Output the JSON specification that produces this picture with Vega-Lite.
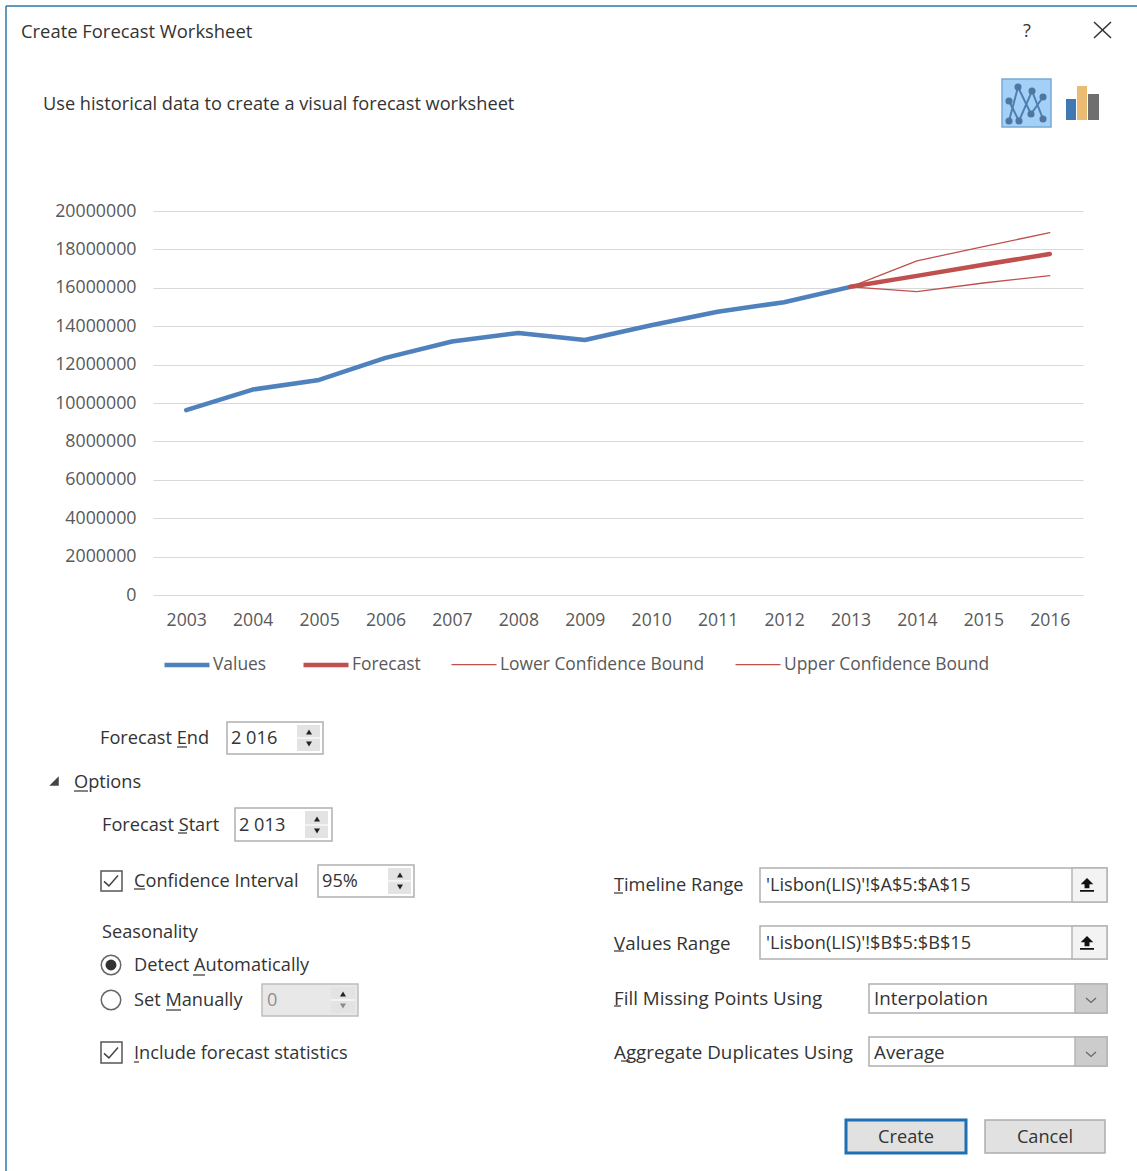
{
"$schema":"https://vega.github.io/schema/vega-lite/v6.json",
"width":1137,"height":1171,"padding":0,"autosize":{"type":"none"},"background":"#ffffff",
"config":{"font":"Open Sans","view":{"stroke":null}},
"resolve":{"scale":{"x":"independent","y":"independent"}},
"layer":[
{
"encoding":{
"x":{"field":"col","type":"quantitative","axis":null,"scale":{"zero":false,"nice":false,"domain":[0,1,2,3,4,5,6,7,8,9,10,11,12,13,14,15,16,17,18,19,20,21,22,23,24,25,26,27,28,29,30,31,32,33,34,35,36,37,38,39,40,41,42,43,44,45,46,47,48,49,50,51,52,53,54,55,56,57,58,59,60,61,62,63,64,65,66,67,68,69,70,71,72,73,74,75,76,77,78,79,80,81],
"range":[6,1137,21,43,1027,1094,1111,1002,1051,1066,1076,1077,1087,1088,1099,1009,1018,1019,1031,1032,1043,100,74,102,134,54,111,101,122,227,323,297,320,235,332,305,328,318,414,388,411,262,358,331,355,231,239,322,267,309,317,400,343,614,760,1107,1072,766,869,1075,874,1091,846,966,906,985,1105,1045,177,187,88,178,145,193,205,166,181,139,623,624,621,630]}},
"y":{"field":"line","type":"quantitative","axis":null,"scale":{"zero":false,"nice":false,"domain":[0,1,2,3,4,5,6,7,8,9,10,11,12,13,14,15,16,17,18,19,20,21,22,23,24,25,26,27,28,29,30,31,32,33,34,35,36,37,38,39,40,41,42,43,44,45,46,47,48,49,50,51,52,53,54,55,56,57,58,59,60,61,62,63,64,65,66,67,68,69,70],
"range":[6,1171,31,104,22,38,79,127,99,120,86,94,121,87,114,97,101,91,119,781,738,782,825,881,932,965,1000,1053,885,943,998,1052,1137,722,754,725,751,808,841,811,838,865,897,868,894,984,1016,987,1013,902,926,959,1037,1066,1120,1153,871,891,1042,1063,747,791,833,889,975,1010,1062,893,951,1006,1061]}}
},
"layer":[
{"data":{"values":[{"part":"top edge","col":0,"col2":1,"line":0,"line2":0},{"part":"left edge","col":0,"col2":0,"line":0,"line2":1}]},
 "mark":{"type":"rule","stroke":"#2b78a8","strokeWidth":1.5},
 "encoding":{"x2":{"field":"col2"},"y2":{"field":"line2"}}},

{"data":{"values":[{"part":"close","col":5,"col2":6,"line":4,"line2":5},{"part":"close","col":5,"col2":6,"line":5,"line2":4}]},
 "mark":{"type":"rule","stroke":"#333333","strokeWidth":1.5},
 "encoding":{"x2":{"field":"col2"},"y2":{"field":"line2"}}},

{"data":{"values":[{"part":"line icon","col":7,"col2":8,"line":6,"line2":7}]},
 "mark":{"type":"rect","fill":"#a3d0f7","stroke":"#77a9d6","strokeWidth":1.5},
 "encoding":{"x2":{"field":"col2"},"y2":{"field":"line2"}}},
{"data":{"values":[
 {"trace":"a","col":15,"line":12},{"trace":"a","col":16,"line":13},{"trace":"a","col":18,"line":14},{"trace":"a","col":20,"line":15},
 {"trace":"b","col":15,"line":16},{"trace":"b","col":17,"line":12},{"trace":"b","col":19,"line":17},{"trace":"b","col":20,"line":18}]},
 "layer":[
 {"mark":{"type":"line","stroke":"#4f7fb0","strokeWidth":2},"encoding":{"detail":{"field":"trace"}}},
 {"mark":{"type":"point","filled":true,"fill":"#4f76a0","opacity":1,"size":50}}
 ]},
{"data":{"values":[{"part":"bar 1","col":9,"col2":10,"line":8,"line2":9}]},"mark":{"type":"rect","fill":"#4078b4"},"encoding":{"x2":{"field":"col2"},"y2":{"field":"line2"}}},
{"data":{"values":[{"part":"bar 2","col":11,"col2":12,"line":10,"line2":9}]},"mark":{"type":"rect","fill":"#e9bb73"},"encoding":{"x2":{"field":"col2"},"y2":{"field":"line2"}}},
{"data":{"values":[{"part":"bar 3","col":13,"col2":14,"line":11,"line2":9}]},"mark":{"type":"rect","fill":"#6f6f6f"},"encoding":{"x2":{"field":"col2"},"y2":{"field":"line2"}}},

{"data":{"values":[
 {"box":"Forecast End","col":29,"col2":30,"line":33,"line2":34},
 {"box":"Forecast Start","col":33,"col2":34,"line":37,"line2":38},
 {"box":"Confidence Interval","col":37,"col2":38,"line":41,"line2":42},
 {"box":"Timeline Range","col":54,"col2":55,"line":43,"line2":49},
 {"box":"Values Range","col":54,"col2":55,"line":50,"line2":51},
 {"box":"Fill Missing Points","col":58,"col2":55,"line":45,"line2":48},
 {"box":"Aggregate Duplicates","col":58,"col2":55,"line":52,"line2":53}]},
 "mark":{"type":"rect","fill":"#ffffff","stroke":"#b0b0b0","strokeWidth":1.5},
 "encoding":{"x2":{"field":"col2"},"y2":{"field":"line2"}}},
{"data":{"values":[{"box":"Seasonality","col":41,"col2":42,"line":45,"line2":46}]},
 "mark":{"type":"rect","fill":"#e8e8e8","stroke":"#bdbdbd","strokeWidth":1.5},
 "encoding":{"x2":{"field":"col2"},"y2":{"field":"line2"}}},
{"data":{"values":[
 {"box":"Forecast End","col":31,"col2":32,"line":35,"line2":36},
 {"box":"Forecast Start","col":35,"col2":36,"line":39,"line2":40},
 {"box":"Confidence Interval","col":39,"col2":40,"line":43,"line2":44},
 {"box":"Seasonality","col":43,"col2":44,"line":47,"line2":48}]},
 "mark":{"type":"rect","fill":"#e3e3e3"},
 "encoding":{"x2":{"field":"col2"},"y2":{"field":"line2"}}},
{"data":{"values":[
 {"box":"Forecast End","col":31,"col2":32,"line":20},
 {"box":"Forecast Start","col":35,"col2":36,"line":22},
 {"box":"Confidence Interval","col":39,"col2":40,"line":23},
 {"box":"Seasonality","col":43,"col2":44,"line":26}]},
 "mark":{"type":"rule","stroke":"#f8f8f8","strokeWidth":1.5},
 "encoding":{"x2":{"field":"col2"}}},
{"data":{"values":[{"col":49,"line":20},{"col":50,"line":22},{"col":51,"line":23},{"col":52,"line":26}]},
 "mark":{"type":"point","shape":"triangle-up","filled":true,"fill":"#222222","opacity":1,"size":36,"yOffset":-6}},
{"data":{"values":[{"col":49,"line":20},{"col":50,"line":22},{"col":51,"line":23}]},
 "mark":{"type":"point","shape":"triangle-down","filled":true,"fill":"#222222","opacity":1,"size":36,"yOffset":6}},
{"data":{"values":[{"col":52,"line":26}]},
 "mark":{"type":"point","shape":"triangle-down","filled":true,"fill":"#8a8a8a","opacity":1,"size":36,"yOffset":6}},

{"data":{"values":[
 {"box":"Timeline Range","col":56,"col2":55,"line":43,"line2":49},
 {"box":"Values Range","col":56,"col2":55,"line":50,"line2":51}]},
 "mark":{"type":"rect","fill":"#f3f3f3","stroke":"#b5b5b5","strokeWidth":1.5},
 "encoding":{"x2":{"field":"col2"},"y2":{"field":"line2"}}},
{"data":{"values":[{"col":12,"line":28},{"col":12,"line":29}]},
 "mark":{"type":"point","shape":"M0,-1 L0.9,-0.1 L0.35,-0.1 L0.35,0.45 L-0.35,0.45 L-0.35,-0.1 L-0.9,-0.1 Z M-1,0.7 L1,0.7 L1,0.95 L-1,0.95 Z","filled":true,"fill":"#111111","opacity":1,"size":196}},
{"data":{"values":[
 {"box":"Fill Missing Points","col":59,"col2":55,"line":45,"line2":48},
 {"box":"Aggregate Duplicates","col":59,"col2":55,"line":52,"line2":53}]},
 "mark":{"type":"rect","fill":"#cccccc","stroke":"#b5b5b5","strokeWidth":1.5},
 "encoding":{"x2":{"field":"col2"},"y2":{"field":"line2"}}},
{"data":{"values":[{"col":61,"line":30},{"col":61,"line":31}]},
 "mark":{"type":"point","shape":"M-1,-0.4 L0,0.5 L1,-0.4","filled":false,"stroke":"#666666","strokeWidth":1.2,"opacity":1,"size":100,"yOffset":2}},

{"data":{"values":[{"box":"Create","col":62,"col2":63,"line":54,"line2":55}]},
 "mark":{"type":"rect","fill":"#e1e1e1","stroke":"#1f6fb5","strokeWidth":3},
 "encoding":{"x2":{"field":"col2"},"y2":{"field":"line2"}}},
{"data":{"values":[{"box":"Cancel","col":65,"col2":66,"line":54,"line2":55}]},
 "mark":{"type":"rect","fill":"#e1e1e1","stroke":"#adadad","strokeWidth":1.5},
 "encoding":{"x2":{"field":"col2"},"y2":{"field":"line2"}}},

{"data":{"values":[
 {"box":"Confidence Interval","col":27,"col2":28,"line":56,"line2":57},
 {"box":"Include forecast statistics","col":27,"col2":28,"line":58,"line2":59}]},
 "mark":{"type":"rect","fill":"#ffffff","stroke":"#555555","strokeWidth":1.5},
 "encoding":{"x2":{"field":"col2"},"y2":{"field":"line2"}}},
{"data":{"values":[{"col":26,"line":23},{"col":26,"line":27}]},
 "mark":{"type":"point","shape":"M-1,0.05 L-0.3,0.7 L1,-0.8","filled":false,"stroke":"#444444","strokeWidth":1.5,"opacity":1,"size":196}},
{"data":{"values":[{"col":26,"line":25},{"col":26,"line":26}]},
 "mark":{"type":"point","shape":"circle","filled":true,"fill":"#ffffff","stroke":"#666666","strokeWidth":1.5,"opacity":1,"size":380}},
{"data":{"values":[{"col":26,"line":25}]},
 "mark":{"type":"point","shape":"circle","filled":true,"fill":"#333333","opacity":1,"size":120}},
{"data":{"values":[{"col":25,"line":19}]},
 "mark":{"type":"point","shape":"M1,-1 L1,1 L-1,1 Z","filled":true,"fill":"#444444","opacity":1,"size":90}},

{"data":{"values":[{"label":"Create Forecast Worksheet","col":2,"line":2}]},
 "mark":{"type":"text","align":"left","baseline":"middle","fontSize":18.4,"yOffset":1,"fill":"#333333"},
 "encoding":{"text":{"field":"label"}}},
{"data":{"values":[
 {"label":"Use historical data to create a visual forecast worksheet","col":3,"line":3},
 {"label":"Forecast End","col":21,"line":20},
 {"label":"Options","col":22,"line":21},
 {"label":"Forecast Start","col":23,"line":22},
 {"label":"Confidence Interval","col":24,"line":23},
 {"label":"Seasonality","col":23,"line":24},
 {"label":"Detect Automatically","col":24,"line":25},
 {"label":"Set Manually","col":24,"line":26},
 {"label":"Include forecast statistics","col":24,"line":27},
 {"label":"Timeline Range","col":53,"line":28},
 {"label":"2 016","col":45,"line":20},
 {"label":"2 013","col":46,"line":22},
 {"label":"95%","col":47,"line":23},
 {"label":"'Lisbon(LIS)'!$A$5:$A$15","col":57,"line":28},
 {"label":"'Lisbon(LIS)'!$B$5:$B$15","col":57,"line":29}]},
 "mark":{"type":"text","align":"left","baseline":"middle","fontSize":18.2,"yOffset":1,"fill":"#333333"},
 "encoding":{"text":{"field":"label"}}},
{"data":{"values":[
 {"label":"Values Range","col":53,"line":29},
 {"label":"Fill Missing Points Using","col":53,"line":30},
 {"label":"Aggregate Duplicates Using","col":53,"line":31},
 {"label":"Interpolation","col":60,"line":30},
 {"label":"Average","col":60,"line":31}]},
 "mark":{"type":"text","align":"left","baseline":"middle","fontSize":18.8,"yOffset":1,"fill":"#333333"},
 "encoding":{"text":{"field":"label"}}},
{"data":{"values":[{"label":"0","col":48,"line":26}]},
 "mark":{"type":"text","align":"left","baseline":"middle","fontSize":18.2,"yOffset":1,"fill":"#8f8f8f"},
 "encoding":{"text":{"field":"label"}}},
{"data":{"values":[
 {"label":"?","col":4,"line":2},
 {"label":"Create","col":64,"line":32},
 {"label":"Cancel","col":67,"line":32}]},
 "mark":{"type":"text","align":"center","baseline":"middle","fontSize":18.2,"yOffset":1,"fill":"#333333"},
 "encoding":{"text":{"field":"label"}}},
{"data":{"values":[
 {"key":"E","col":68,"col2":69,"line":60},
 {"key":"O","col":22,"col2":70,"line":61},
 {"key":"S","col":71,"col2":69,"line":62},
 {"key":"C","col":24,"col2":72,"line":63},
 {"key":"A","col":73,"col2":74,"line":64},
 {"key":"M","col":75,"col2":76,"line":65},
 {"key":"I","col":24,"col2":77,"line":66},
 {"key":"T","col":53,"col2":78,"line":67},
 {"key":"V","col":53,"col2":79,"line":68},
 {"key":"F","col":53,"col2":80,"line":69},
 {"key":"g","col":80,"col2":81,"line":70}]},
 "mark":{"type":"rule","stroke":"#333333","strokeWidth":1.2},
 "encoding":{"x2":{"field":"col2"}}}
]
},
{
"data":{"values":[
 {"year":"2003","series":"Values","value":9630000},
 {"year":"2004","series":"Values","value":10700000},
 {"year":"2005","series":"Values","value":11200000},
 {"year":"2006","series":"Values","value":12350000},
 {"year":"2007","series":"Values","value":13200000},
 {"year":"2008","series":"Values","value":13650000},
 {"year":"2009","series":"Values","value":13280000},
 {"year":"2010","series":"Values","value":14050000},
 {"year":"2011","series":"Values","value":14750000},
 {"year":"2012","series":"Values","value":15250000},
 {"year":"2013","series":"Values","value":16050000},
 {"year":"2013","series":"Forecast","value":16050000},
 {"year":"2014","series":"Forecast","value":16620000},
 {"year":"2015","series":"Forecast","value":17200000},
 {"year":"2016","series":"Forecast","value":17760000},
 {"year":"2013","series":"Lower Confidence Bound","value":16050000},
 {"year":"2014","series":"Lower Confidence Bound","value":15800000},
 {"year":"2015","series":"Lower Confidence Bound","value":16250000},
 {"year":"2016","series":"Lower Confidence Bound","value":16630000},
 {"year":"2013","series":"Upper Confidence Bound","value":16050000},
 {"year":"2014","series":"Upper Confidence Bound","value":17400000},
 {"year":"2015","series":"Upper Confidence Bound","value":18150000},
 {"year":"2016","series":"Upper Confidence Bound","value":18870000}
]},
"mark":{"type":"line","strokeCap":"round","strokeJoin":"round"},
"encoding":{
 "x":{"field":"year","type":"ordinal","scale":{"type":"point","padding":0.5,"range":[153,1083]},
  "axis":{"title":null,"labelAngle":0,"ticks":false,"grid":false,"offset":-576,"domain":true,"domainColor":"#d9d9d9","domainWidth":1,"labelColor":"#595959","labelFontSize":17.6,"labelPadding":16}},
 "y":{"field":"value","type":"quantitative","scale":{"domain":[0,20000000],"range":[595,211],"nice":false},
  "axis":{"title":null,"values":[0,2000000,4000000,6000000,8000000,10000000,12000000,14000000,16000000,18000000,20000000],"format":"d","ticks":false,"domain":false,"grid":true,"gridColor":"#d9d9d9","gridWidth":1,"offset":-153,"labelColor":"#595959","labelFontSize":17.8,"labelPadding":17}},
 "color":{"field":"series","type":"nominal",
  "scale":{"domain":["Values","Forecast","Lower Confidence Bound","Upper Confidence Bound"],"range":["#4f81bd","#c0504d","#c0504d","#c0504d"]},
  "legend":{"title":null,"orient":"none","legendX":162,"legendY":640,"direction":"horizontal","columns":4,"symbolType":"stroke","symbolSize":2025,"labelColor":"#595959","labelFontSize":17.4,"labelLimit":320,"labelOffset":1,"columnPadding":27}},
 "strokeWidth":{"field":"series","type":"nominal",
  "scale":{"type":"ordinal","domain":["Values","Forecast","Lower Confidence Bound","Upper Confidence Bound"],"range":[4.5,4.5,1.3,1.3]},
  "legend":{"title":null,"orient":"none","legendX":162,"legendY":640,"direction":"horizontal","columns":4,"symbolType":"stroke","symbolSize":2025,"labelColor":"#595959","labelFontSize":17.4,"labelLimit":320,"labelOffset":1,"columnPadding":27}}
}
}
]
}
